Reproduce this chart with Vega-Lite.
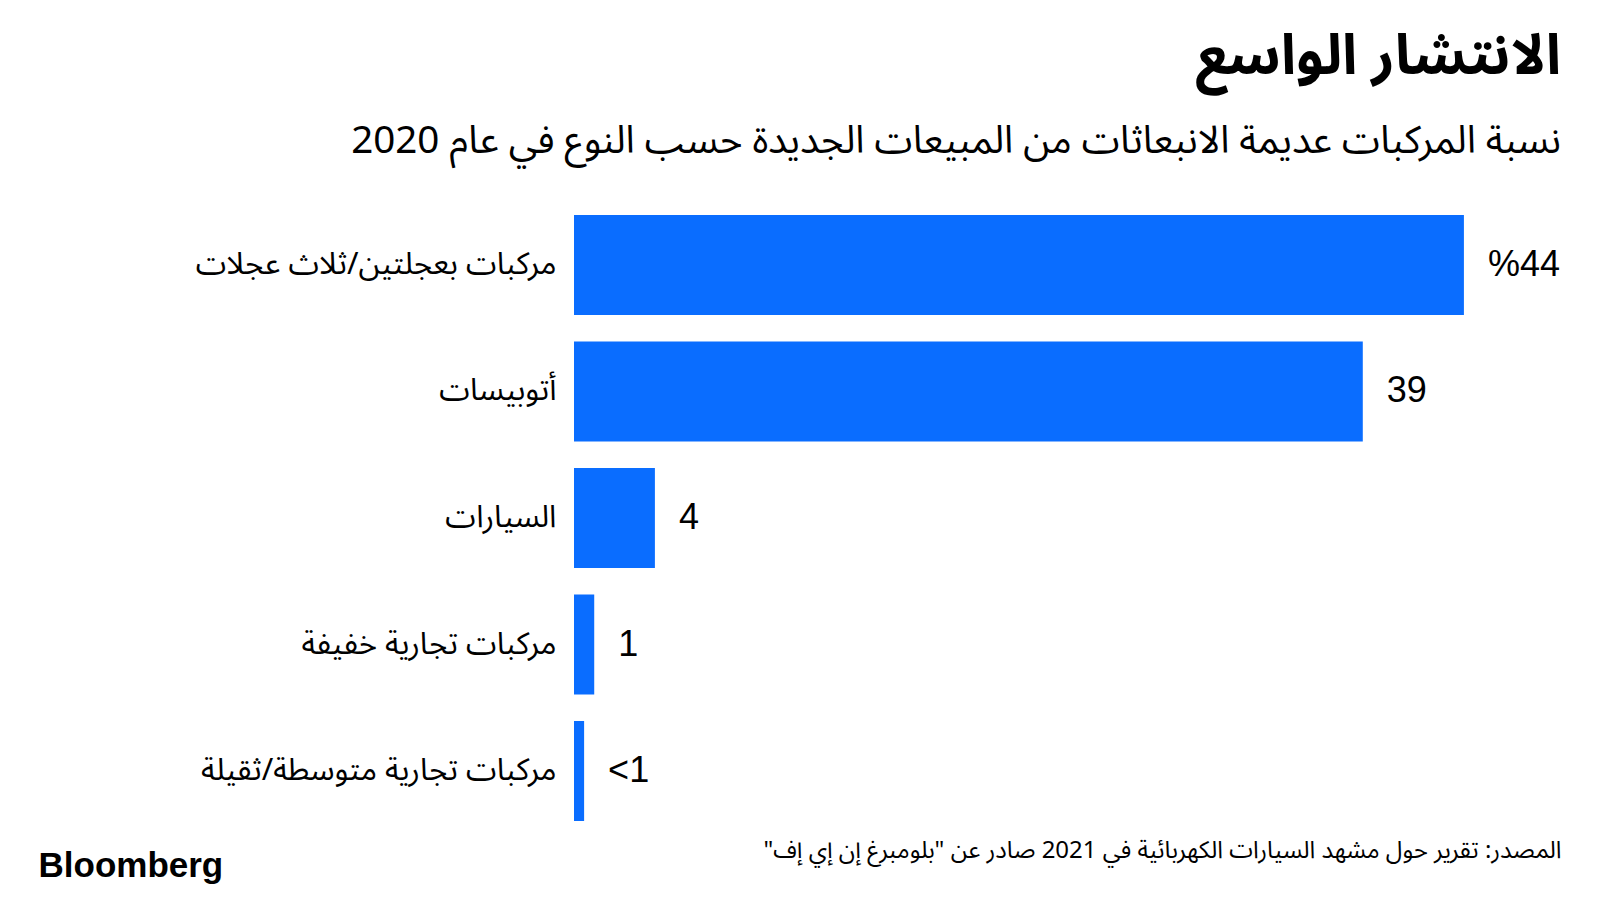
{
  "$schema": "https://vega.github.io/schema/vega-lite/v6.json",
  "width": 987,
  "height": 606,
  "autosize": {"type": "none"},
  "padding": {"left": 574, "top": 215, "right": 39, "bottom": 79},
  "background": "white",
  "title": {
    "text": "الانتشار الواسع",
    "subtitle": "نسبة المركبات عديمة الانبعاثات من المبيعات الجديدة حسب النوع  في عام 2020",
    "anchor": "end",
    "frame": "group",
    "font": "'Noto Sans Arabic', 'DejaVu Sans', sans-serif",
    "fontSize": 56,
    "fontWeight": "bold",
    "color": "black",
    "subtitleFont": "'Noto Sans Arabic', 'DejaVu Sans', sans-serif",
    "subtitleFontSize": 38.6,
    "subtitleColor": "black",
    "subtitlePadding": 37,
    "offset": 53
  },
  "data": {
    "values": [
      {"type": "مركبات بعجلتين/ثلاث عجلات", "value": 44, "label": "%44"},
      {"type": "أتوبيسات", "value": 39, "label": "39"},
      {"type": "السيارات", "value": 4, "label": "4"},
      {"type": "مركبات تجارية خفيفة", "value": 1, "label": "1"},
      {"type": "مركبات تجارية متوسطة/ثقيلة", "value": 0.5, "label": "<1"}
    ]
  },
  "encoding": {
    "y": {
      "field": "type",
      "type": "nominal",
      "sort": null,
      "scale": {"paddingInner": 0.21, "paddingOuter": 0},
      "axis": {
        "domain": false,
        "ticks": false,
        "grid": false,
        "labelPadding": 18,
        "labelFont": "'Noto Sans Arabic', 'DejaVu Sans', sans-serif",
        "labelFontSize": 31,
        "labelColor": "black",
        "labelLimit": 0,
        "title": "Bloomberg",
        "titleAngle": 0,
        "titleX": -536,
        "titleY": 661,
        "titleAlign": "left",
        "titleBaseline": "alphabetic",
        "titleFont": "'Liberation Sans', Arial, sans-serif",
        "titleFontSize": 35,
        "titleFontWeight": "bold",
        "titleColor": "black"
      }
    },
    "x": {
      "field": "value",
      "type": "quantitative",
      "scale": {"domain": [0, 48.8], "nice": false},
      "axis": {
        "labels": false,
        "ticks": false,
        "domain": false,
        "grid": false,
        "title": "المصدر: تقرير حول مشهد السيارات الكهربائية في 2021 صادر عن \"بلومبرغ إن إي إف\"‏",
        "titleAnchor": "end",
        "titleAlign": "right",
        "titleY": 36,
        "titleBaseline": "alphabetic",
        "titleFont": "'Noto Sans Arabic', 'DejaVu Sans', sans-serif",
        "titleFontSize": 24,
        "titleFontWeight": "normal",
        "titleColor": "black"
      }
    }
  },
  "layer": [
    {"mark": {"type": "bar", "color": "#0a6dff"}},
    {
      "mark": {
        "type": "text",
        "align": "left",
        "baseline": "middle",
        "dx": 24,
        "font": "'Liberation Sans', Arial, sans-serif",
        "fontSize": 36,
        "color": "black"
      },
      "encoding": {"text": {"field": "label"}}
    }
  ],
  "config": {"view": {"stroke": null}}
}
